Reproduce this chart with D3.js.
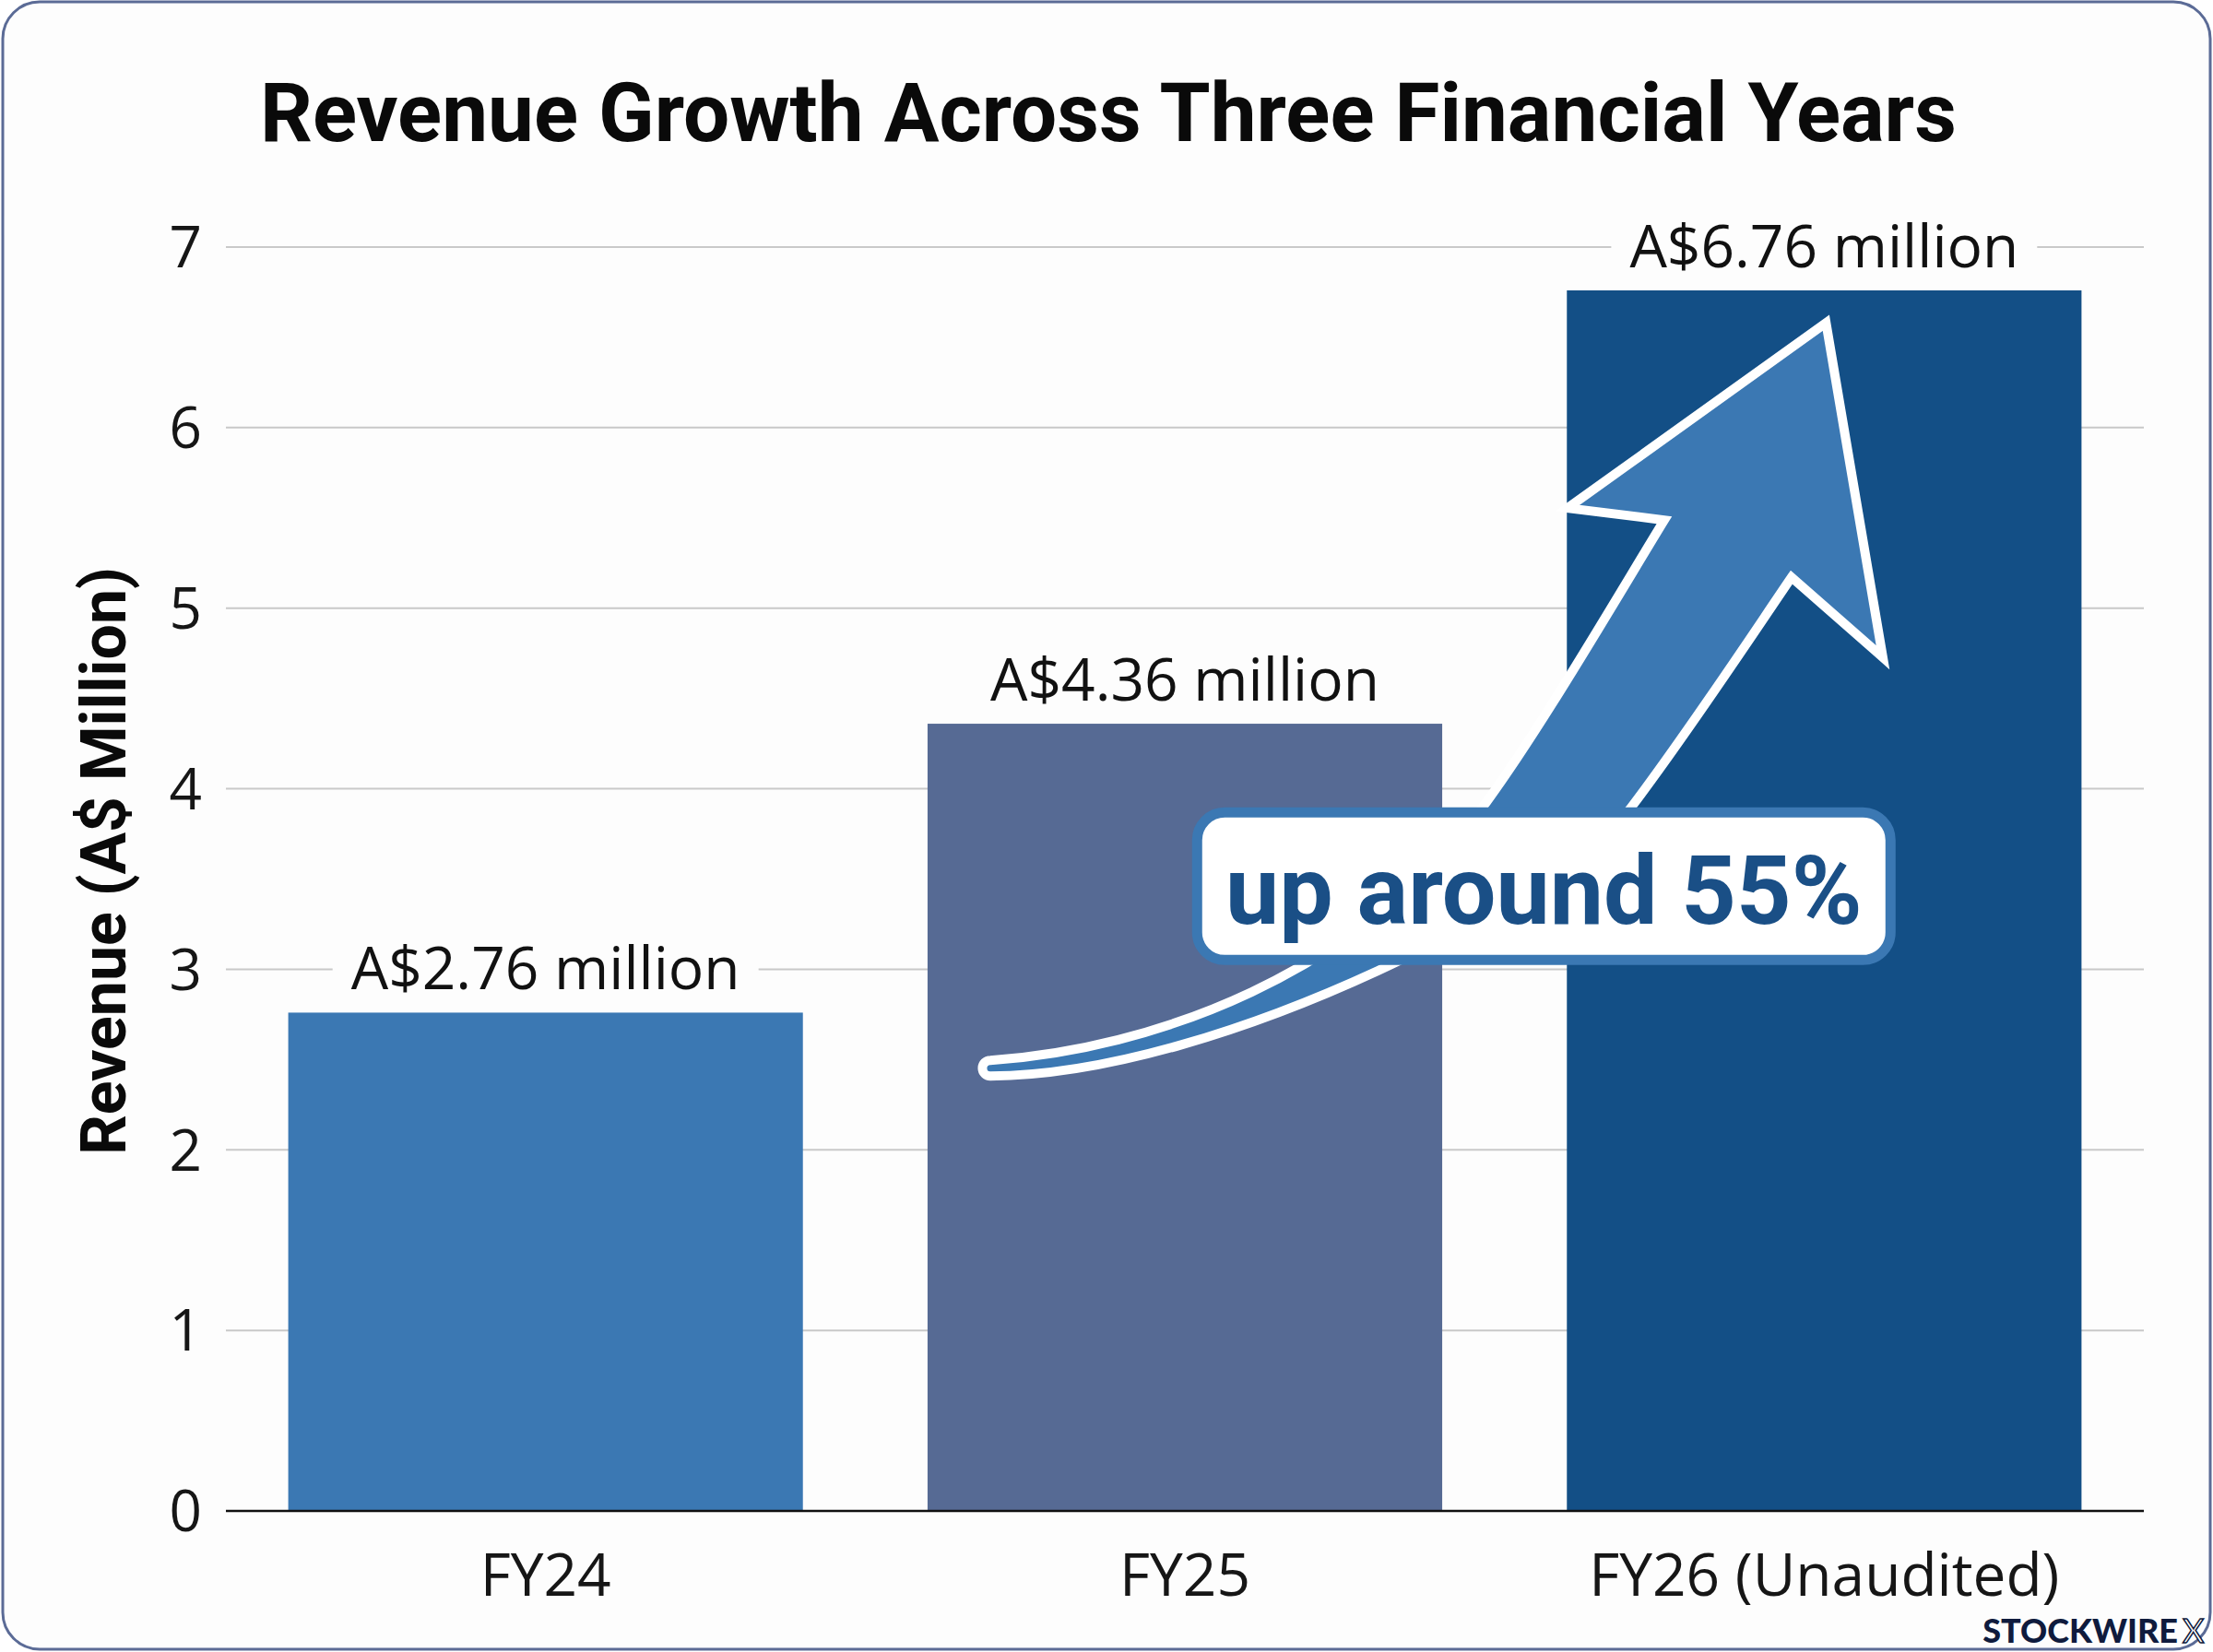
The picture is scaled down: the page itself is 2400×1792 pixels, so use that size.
<!DOCTYPE html>
<html>
<head>
<meta charset="utf-8">
<script src="https://cdn.jsdelivr.net/npm/d3@7"></script>
<style>
  body { margin: 0; background: #fff; }
</style>
</head>
<body>
<div id="chart"></div>
<script>
var w = 2400;
var h = 1792;

// data
var years = ["FY24", "FY25", "FY26 (Unaudited)"];
var revenue = [2.76, 4.36, 6.76];
var valueLabels = ["A$2.76 million", "A$4.36 million", "A$6.76 million"];
var barColors = ["#3b78b3", "#566a94", "#134f86"];
var yTicks = [0, 1, 2, 3, 4, 5, 6, 7];

var margin = {top: 268, right: 75, bottom: 153, left: 245};

var svg = d3.select("#chart")
    .append("svg")
    .attr("width", w)
    .attr("height", h);

// frame
svg.append("rect")
    .attr("x", 3)
    .attr("y", 2)
    .attr("width", w - 6)
    .attr("height", h - 5)
    .attr("rx", 40)
    .style("fill", "#fdfdfd")
    .style("stroke", "#5b6b96")
    .style("stroke-width", 3);

var x = d3.scaleBand()
    .domain(years)
    .range([margin.left, w - margin.right])
    .paddingInner(0.195)
    .paddingOuter(0.0975);

var y = d3.scaleLinear()
    .domain([0, 7])
    .range([h - margin.bottom, margin.top]);

// gridlines
svg.selectAll("line.grid")
    .data(yTicks.slice(1))
    .enter()
    .append("line")
    .attr("class", "grid")
    .attr("x1", margin.left)
    .attr("x2", w - margin.right)
    .attr("y1", function(d) { return y(d); })
    .attr("y2", function(d) { return y(d); })
    .style("stroke", "#c9c9c9")
    .style("stroke-width", 2);

// y tick labels
svg.selectAll("text.ytick")
    .data(yTicks)
    .enter()
    .append("text")
    .attr("class", "ytick")
    .attr("x", 219)
    .attr("y", function(d) { return y(d); })
    .attr("dy", "0.36em")
    .attr("text-anchor", "end")
    .style("font-family", "'Open Sans', sans-serif")
    .style("font-size", "62px")
    .style("fill", "#161616")
    .text(function(d) { return d; });

// bars
svg.selectAll("rect.bar")
    .data(revenue)
    .enter()
    .append("rect")
    .attr("class", "bar")
    .attr("x", function(d, i) { return x(years[i]); })
    .attr("y", function(d) { return y(d); })
    .attr("width", x.bandwidth())
    .attr("height", function(d) { return y(0) - y(d); })
    .style("fill", function(d, i) { return barColors[i]; });

// baseline
svg.append("line")
    .attr("x1", margin.left)
    .attr("x2", w - margin.right)
    .attr("y1", y(0))
    .attr("y2", y(0))
    .style("stroke", "#111")
    .style("stroke-width", 2.5);

// x labels
svg.selectAll("text.xlab")
    .data(years)
    .enter()
    .append("text")
    .attr("class", "xlab")
    .attr("x", function(d) { return x(d) + x.bandwidth() / 2; })
    .attr("y", 1731)
    .attr("text-anchor", "middle")
    .style("font-family", "'Open Sans', sans-serif")
    .style("font-size", "64px")
    .style("fill", "#161616")
    .text(function(d) { return d; });

// value labels with white knock-out behind
var labels = svg.selectAll("g.vlab")
    .data(revenue)
    .enter()
    .append("g")
    .attr("class", "vlab");

labels.append("rect")
    .style("fill", "#fdfdfd");

labels.append("text")
    .attr("x", function(d, i) { return x(years[i]) + x.bandwidth() / 2; })
    .attr("y", function(d) { return y(d) - 25; })
    .attr("text-anchor", "middle")
    .style("font-family", "'Open Sans', sans-serif")
    .style("font-size", "64px")
    .style("fill", "#111")
    .text(function(d, i) { return valueLabels[i]; });

labels.each(function() {
    var g = d3.select(this);
    var bb = g.select("text").node().getBBox();
    g.select("rect")
        .attr("x", bb.x - 20)
        .attr("y", bb.y + 4)
        .attr("width", bb.width + 40)
        .attr("height", bb.height - 8);
});

// growth arrow, anchored from FY25 bar to FY26 bar
var tail = [x("FY25") + 68, y(2.455)];
var tip = [x("FY26 (Unaudited)") + x.bandwidth() / 2 + 2, y(6.58)];

function pt(dx, dy) { return (tail[0] + dx) + "," + (tail[1] + dy); }

var arrowPath =
    "M" + pt(0, -8) +
    "C" + pt(176, -20) + " " + pt(400, -100) + " " + pt(538, -288) +
    "C" + pt(598, -370) + " " + pt(682, -514) + " " + pt(731, -594) +
    "L" + pt(626, -607) +
    "L" + (tip[0]) + "," + (tip[1]) +
    "L" + pt(968, -445) +
    "L" + pt(869, -532) +
    "C" + pt(818, -457) + " " + pt(752, -357) + " " + pt(694, -281) +
    "C" + pt(634, -198) + " " + pt(256, 8) + " " + pt(0, 9) +
    "A8.5,8.5 0 0 1 " + pt(0, -8) + "Z";

svg.append("path")
    .attr("d", arrowPath)
    .style("fill", "#3b78b3")
    .style("stroke", "#fff")
    .style("stroke-width", 10)
    .style("stroke-linejoin", "miter")
    .style("stroke-miterlimit", 8);

// callout
var boxW = 752;
var boxH = 160;
var boxCx = x("FY26 (Unaudited)") - 25;
var boxCy = y(3.46);

svg.append("rect")
    .attr("x", boxCx - boxW / 2)
    .attr("y", boxCy - boxH / 2)
    .attr("width", boxW)
    .attr("height", boxH)
    .attr("rx", 30)
    .style("fill", "#fff")
    .style("stroke", "#3b78b3")
    .style("stroke-width", 11);

svg.append("text")
    .attr("x", boxCx)
    .attr("y", boxCy + 41)
    .attr("text-anchor", "middle")
    .style("font-family", "Roboto, sans-serif")
    .style("font-weight", "bold")
    .style("font-size", "104px")
    .style("fill", "#1a4f86")
    .text("up around 55%");

// title
svg.append("text")
    .attr("x", 1202)
    .attr("y", 153)
    .attr("text-anchor", "middle")
    .style("font-family", "Roboto, sans-serif")
    .style("font-weight", "bold")
    .style("font-size", "89px")
    .style("fill", "#0a0a0a")
    .text("Revenue Growth Across Three Financial Years");

// y axis title
svg.append("text")
    .attr("transform", "translate(136," + y(3.6) + ") rotate(-90)")
    .attr("text-anchor", "middle")
    .style("font-family", "Roboto, sans-serif")
    .style("font-weight", "bold")
    .style("font-size", "68px")
    .style("fill", "#0a0a0a")
    .text("Revenue (A$ Million)");

// watermark
svg.append("text")
    .attr("x", 2362)
    .attr("y", 1782)
    .attr("text-anchor", "end")
    .style("font-family", "Lato, sans-serif")
    .style("font-weight", "900")
    .style("font-size", "36px")
    .style("fill", "#0f1b3d")
    .text("STOCKWIRE");

svg.append("text")
    .attr("x", 2367)
    .attr("y", 1782)
    .style("font-family", "Lato, sans-serif")
    .style("font-weight", "400")
    .style("font-size", "36px")
    .style("fill", "#fff")
    .style("stroke", "#0f1b3d")
    .style("stroke-width", 1.5)
    .text("X");
</script>
</body>
</html>
